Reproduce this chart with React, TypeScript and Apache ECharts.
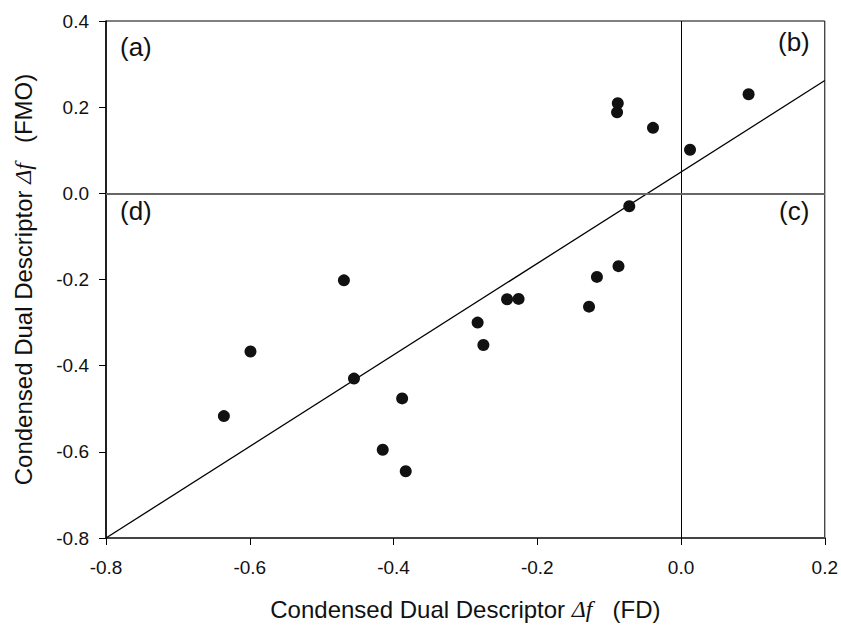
import React, { useEffect, useRef } from "react";
import * as echarts from "echarts";

const fdValues = [-0.636, -0.599, -0.469, -0.455, -0.388, -0.415, -0.383, -0.283, -0.275, -0.242, -0.226, -0.128, -0.117, -0.087, -0.072, -0.088, -0.089, -0.039, 0.0125, 0.094];
const fmoValues = [-0.517, -0.367, -0.202, -0.430, -0.476, -0.595, -0.645, -0.300, -0.352, -0.246, -0.245, -0.263, -0.194, -0.169, -0.030, 0.209, 0.188, 0.152, 0.101, 0.230];
const fitLineX = [-0.8, 0.2];
const fitLineY = [-0.8, 0.262];
const panelLabels = ["(a)", "(b)", "(c)", "(d)"];

const FONT = "'Liberation Sans', Arial, sans-serif";

export default function App() {
  const ref = useRef<HTMLDivElement>(null);
  useEffect(() => {
    if (!ref.current) return;
    const chart = echarts.init(ref.current, null, { renderer: "svg" });
    const points = fdValues.map((x, i) => [x, fmoValues[i]]);
    const fit = fitLineX.map((x, i) => [x, fitLineY[i]]);
    const rich = {
      i: { fontFamily: "'Liberation Serif', serif", fontStyle: "italic", fontSize: 24, color: "#111" },
    };
    chart.setOption({
      animation: false,
      backgroundColor: "#fff",
      grid: {
        left: 106,
        right: 14,
        top: 21,
        bottom: 87,
        show: true,
        borderColor: "#000",
        borderWidth: 1,
      },
      xAxis: {
        type: "value",
        min: -0.8,
        max: 0.2,
        interval: 0.2,
        name: "Condensed Dual Descriptor {i|Δf}   (FD)",
        nameLocation: "middle",
        nameGap: 59,
        nameTextStyle: { fontFamily: FONT, fontSize: 24, color: "#111", rich },
        axisLine: { show: true, onZero: false, lineStyle: { color: "#444", width: 2 } },
        axisTick: { show: true, length: 7, inside: false, lineStyle: { color: "#000" } },
        axisLabel: {
          margin: 20,
          fontFamily: FONT,
          fontSize: 19,
          color: "#111",
          formatter: (v: number) => v.toFixed(1),
        },
        splitLine: { show: false },
      },
      yAxis: {
        type: "value",
        min: -0.8,
        max: 0.4,
        interval: 0.2,
        name: "Condensed Dual Descriptor {i|Δf}   (FMO)",
        nameLocation: "middle",
        nameGap: 71,
        nameTextStyle: { fontFamily: FONT, fontSize: 24, color: "#111", rich },
        axisLine: { show: true, onZero: false, lineStyle: { color: "#000", width: 1.5 } },
        axisTick: { show: true, length: 7, inside: false, lineStyle: { color: "#000" } },
        axisLabel: {
          margin: 17,
          fontFamily: FONT,
          fontSize: 19,
          color: "#111",
          formatter: (v: number) => v.toFixed(1),
        },
        splitLine: { show: false },
      },
      series: [
        {
          type: "line",
          data: fit,
          symbol: "none",
          lineStyle: { color: "#000", width: 1.3 },
          z: 2,
          silent: true,
        },
        {
          type: "scatter",
          data: points,
          symbol: "circle",
          symbolSize: 12,
          itemStyle: { color: "#111", opacity: 1 },
          z: 3,
          markLine: {
            silent: true,
            symbol: "none",
            label: { show: false },
            data: [
              { xAxis: 0, lineStyle: { color: "#000", width: 1, type: "solid" } },
              { yAxis: 0, lineStyle: { color: "#666", width: 2, type: "solid" } },
            ],
          },
        },
      ],
      graphic: [
        { type: "text", left: 120, top: 34, style: { text: panelLabels[0], font: `26px ${FONT}`, fill: "#111" } },
        { type: "text", left: 778, top: 29, style: { text: panelLabels[1], font: `26px ${FONT}`, fill: "#111" } },
        { type: "text", left: 779, top: 198, style: { text: panelLabels[2], font: `26px ${FONT}`, fill: "#111" } },
        { type: "text", left: 120, top: 198, style: { text: panelLabels[3], font: `26px ${FONT}`, fill: "#111" } },
      ],
    });
    return () => chart.dispose();
  }, []);
  return <div ref={ref} style={{ width: 841, height: 626, position: "absolute", left: 0, top: 0 }} />;
}
